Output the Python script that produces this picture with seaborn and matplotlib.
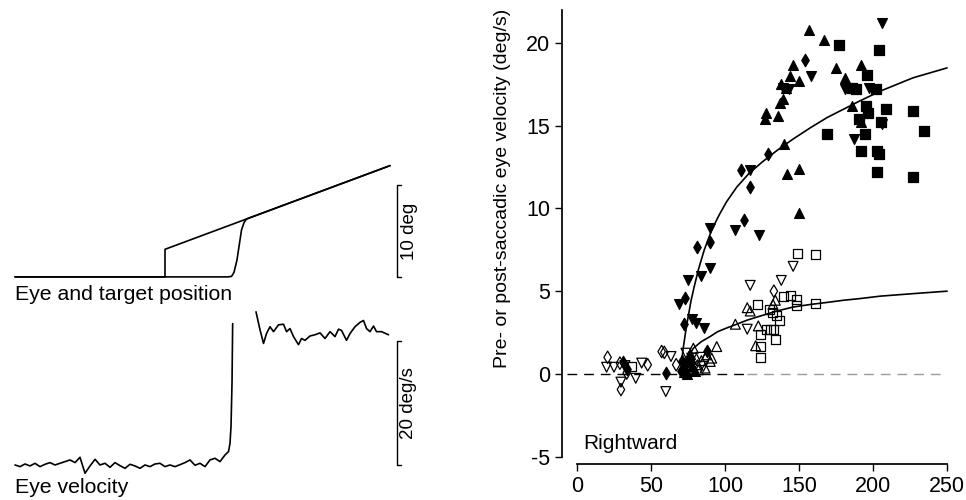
import matplotlib
matplotlib.use("Agg")
import matplotlib.pyplot as plt
import numpy as np
import pandas as pd
import seaborn as sns

sns.set_theme(style='ticks')
plt.rcParams['font.family'] = ['Liberation Sans', 'DejaVu Sans']
plt.rcParams.update({'text.color': 'black', 'axes.labelcolor': 'black',
                     'xtick.color': 'black', 'ytick.color': 'black',
                     'axes.edgecolor': 'black', 'axes.unicode_minus': False})

# ---- left panel: example trial (time in ms) ----
target_t = [0, 300, 300, 750]
target_pos = [0, 0, 3.0, 12.1]
eye_t = [0, 425, 433, 438, 444, 448, 453, 458, 463, 750]
eye_pos = [0, 0, 0.05, 0.5, 1.85, 3.3, 5.1, 5.9, 6.3, 12.1]

vel_pre_t = [0, 10, 20, 30, 40, 50, 60, 70, 80, 90, 100, 110, 120, 130, 140, 150, 160,
             170, 180, 190, 200, 210, 220, 230, 240, 250, 260, 270, 280, 290, 300, 310,
             320, 330, 340, 350, 360, 370, 380, 390, 400, 410, 420, 427, 430, 432, 434, 435.3]
vel_pre = [0, -0.27, 0.16, -0.16, 0.27, -0.27, 0.11, 0.38, 0, 0.27, 0.54, 0.81, 0.38,
           1.24, -1.34, -0.16, 0.91, 0, 0.27, -0.38, 0.38, -0.11, -0.54, 0.11, -0.16,
           -0.54, 0, -0.27, 0.16, 0.27, -0.27, 0, -0.27, 0.05, 0.38, 0.81, -0.05, 0.27,
           -0.27, 0.81, 1.08, 0.54, 1.61, 2.15, 3.5, 6.2, 13.2, 22.8]
vel_post_t = [482, 490, 497, 503, 510, 517, 527, 537, 543, 550, 557, 567, 573, 580, 590,
              600, 610, 620, 630, 640, 647, 653, 663, 670, 680, 690, 697, 703, 710, 717,
              723, 733, 747]
vel_post = [24.7, 21.8, 19.6, 21.2, 22.3, 21.5, 22.6, 22.7, 21.5, 22.0, 20.7, 19.4, 20.4,
            20.1, 20.8, 21.0, 21.3, 20.4, 21.5, 20.7, 21.9, 21.7, 20.1, 21.2, 22.3, 23.0,
            23.3, 22.0, 21.5, 22.4, 21.5, 21.5, 21.0]

# ---- right panel: velocity vs. target speed ----
fill_up_x = [157, 167, 146, 175, 192, 144, 150, 181, 138, 141, 137, 139, 128, 127, 136,
             186, 192, 140, 142, 150, 150, 73, 75, 76.4, 72.5, 78, 80, 74, 77]
fill_up_y = [20.8, 20.2, 18.7, 18.5, 18.7, 18.0, 17.7, 17.9, 17.5, 17.3, 16.4, 16.6, 15.8,
             15.4, 15.6, 16.2, 15.2, 13.9, 12.1, 12.4, 9.7, 0.3, 0.7, 1.2, 0.1, 0.5, 0.2,
             0.0, 0.9]
fill_down_x = [206, 158, 143, 139, 181, 197, 209, 206, 187, 117, 90, 107, 123, 90, 84, 75,
               69, 77.5, 80.4, 86]
fill_down_y = [21.2, 18.0, 17.2, 17.3, 17.2, 17.3, 16.0, 15.1, 14.2, 12.3, 8.8, 8.7, 8.4,
               6.4, 5.9, 5.7, 4.2, 3.3, 3.1, 2.8]
fill_sq_x = [177, 204, 196, 186, 188.5, 202, 195.5, 196.5, 190.7, 209, 227, 205.5, 234.5,
             169, 194.6, 192, 202.5, 204, 202.5, 227]
fill_sq_y = [19.9, 19.6, 18.1, 17.3, 17.2, 17.2, 16.2, 15.8, 15.4, 16.0, 15.9, 15.2, 14.7,
             14.5, 14.5, 13.5, 13.5, 13.3, 12.2, 11.9]
fill_dia_x = [154, 129, 110.6, 117, 113, 90, 81, 73, 72.5, 88, 71, 70.5, 60, 31, 34]
fill_dia_y = [19.0, 13.3, 12.3, 11.3, 9.3, 8.0, 7.7, 4.6, 3.0, 1.4, 0.8, 0.2, 0.05, 0.7, 0.3]

open_down_x = [146, 138, 117, 115, 77.5, 73.6, 83.6, 85.4, 63.5, 60, 43.7, 39.7, 29.7, 20,
               25, 32.4]
open_down_y = [6.5, 5.65, 5.35, 2.7, 0.95, 1.25, 1.0, 0.45, 1.05, -1.07, 0.65, -0.27, -0.5,
               0.4, 0.4, 0.5]
open_up_x = [134, 132.4, 115, 117, 122.5, 107, 120.7, 94.4, 78.6, 87.6, 91, 90, 81.3, 78.2,
             86.5, 82, 84]
open_up_y = [4.45, 4.2, 4.0, 3.8, 2.9, 3.0, 1.7, 1.65, 1.55, 1.15, 0.95, 0.75, 0.55, 0.35,
             0.35, 0.25, 0.8]
open_sq_x = [149, 161, 139.4, 144, 148.4, 148, 161, 122, 130, 132, 134.5, 136.7, 127.7,
             130.4, 132.6, 124, 134.2, 124, 124, 37]
open_sq_y = [7.3, 7.2, 4.65, 4.75, 4.5, 4.15, 4.25, 4.2, 3.9, 3.7, 3.5, 3.2, 2.7, 2.7, 2.7,
             2.35, 2.1, 1.65, 1.0, 0.45]
open_dia_x = [133, 20.7, 29, 33.6, 29.7, 47.8, 57.2, 59, 67]
open_dia_y = [5.0, 1.0, 0.65, 0.05, -0.95, 0.55, 1.35, 1.3, 0.55]

fit_hi_x = [70, 71, 72, 73.5, 75, 77, 79, 82, 86, 91, 96, 101, 108, 116, 125, 135, 146,
            158, 169, 180, 191, 205, 227, 250]
fit_hi_y = [0, 1.0, 1.7, 2.6, 3.4, 4.4, 5.2, 6.3, 7.5, 8.7, 9.6, 10.4, 11.3, 12.1, 12.8,
            13.5, 14.2, 14.9, 15.5, 16.0, 16.5, 17.1, 17.9, 18.5]
fit_lo_x = [71, 73, 76, 78.6, 84, 90, 95, 101, 107, 115, 124, 135, 146, 158, 169, 180, 191,
            205, 227, 250]
fit_lo_y = [0.2, 0.7, 1.15, 1.55, 1.95, 2.26, 2.55, 2.77, 2.97, 3.25, 3.5, 3.8, 4.04, 4.2,
            4.32, 4.45, 4.55, 4.7, 4.85, 5.0]

fig = plt.figure(figsize=(9.66, 5.0), dpi=100)

# left: position traces
ax_p = fig.add_axes([0, 0.38, 0.4348, 0.32])
sns.lineplot(x=target_t, y=target_pos, ax=ax_p, color='black', lw=1.2, sort=False,
             estimator=None)
sns.lineplot(x=eye_t, y=eye_pos, ax=ax_p, color='black', lw=1.2, sort=False,
             estimator=None)
ax_p.set_xlim(-30, 810)
ax_p.set_ylim(-3.6, 13.8)
ax_p.plot([772, 764, 764, 772], [10, 10, 0, 0], color='black', lw=1)
ax_p.text(789, 5, '10 deg', rotation=90, ha='center', va='center', fontsize=13.5)
ax_p.text(0, -2.5, 'Eye and target position', ha='left', va='baseline', fontsize=15.3)
ax_p.axis('off')

# left: velocity trace
ax_v = fig.add_axes([0, 0.0, 0.4348, 0.39])
sns.lineplot(x=vel_pre_t, y=vel_pre, ax=ax_v, color='black', lw=1.2, sort=False,
             estimator=None)
sns.lineplot(x=vel_post_t, y=vel_post, ax=ax_v, color='black', lw=1.2, sort=False,
             estimator=None)
ax_v.set_xlim(-30, 810)
ax_v.set_ylim(-5.65, 25.8)
ax_v.plot([772, 764, 764, 772], [20, 20, 0, 0], color='black', lw=1)
ax_v.text(786, 10, '20 deg/s', rotation=90, ha='center', va='center', fontsize=13.5)
ax_v.text(0, -4.56, 'Eye velocity', ha='left', va='baseline', fontsize=15.3)
ax_v.axis('off')

# right: scatter
ax = fig.add_axes([0.5818, 0.072, 0.4017, 0.908])
groups = [
    (fill_up_x, fill_up_y, '^', 50, True),
    (fill_down_x, fill_down_y, 'v', 50, True),
    (fill_sq_x, fill_sq_y, 's', 42, True),
    (fill_dia_x, fill_dia_y, 'd', 40, True),
    (open_down_x, open_down_y, 'v', 50, False),
    (open_up_x, open_up_y, '^', 50, False),
    (open_sq_x, open_sq_y, 's', 42, False),
    (open_dia_x, open_dia_y, 'd', 40, False),
]
for gx, gy, mk, sz, filled in groups:
    df = pd.DataFrame({'x': gx, 'y': gy})
    sns.scatterplot(data=df, x='x', y='y', ax=ax, marker=mk, s=sz,
                    facecolor='black' if filled else 'none', edgecolor='black',
                    linewidth=0.9, zorder=3)

sns.lineplot(x=fit_hi_x, y=fit_hi_y, ax=ax, color='black', lw=1.2, estimator=None)
sns.lineplot(x=fit_lo_x, y=fit_lo_y, ax=ax, color='black', lw=1.2, estimator=None)
ax.plot([-7, 115], [0, 0], color='black', lw=1, dashes=(7, 5))
ax.plot([115, 248], [0, 0], color='#9a9a9a', lw=1, dashes=(7, 5))

ax.set_xlim(-10.1, 252)
ax.set_ylim(-5.45, 22)
ax.set_xticks([0, 50, 100, 150, 200, 250])
ax.set_yticks([-5, 0, 5, 10, 15, 20])
ax.spines['right'].set_visible(False)
ax.spines['top'].set_visible(False)
ax.spines['left'].set_bounds(-5, 22)
ax.spines['bottom'].set_bounds(0, 250)
ax.tick_params(axis='both', labelsize=15.5, length=5, width=1, color='black')
ax.set_xlabel('')
ax.set_ylabel('Pre- or post-saccadic eye velocity (deg/s)', fontsize=14)
ax.yaxis.set_label_coords(-0.131, 0.608)
ax.text(4, -4.55, 'Rightward', ha='left', va='baseline', fontsize=15)

fig.savefig('out.png', dpi=100)
